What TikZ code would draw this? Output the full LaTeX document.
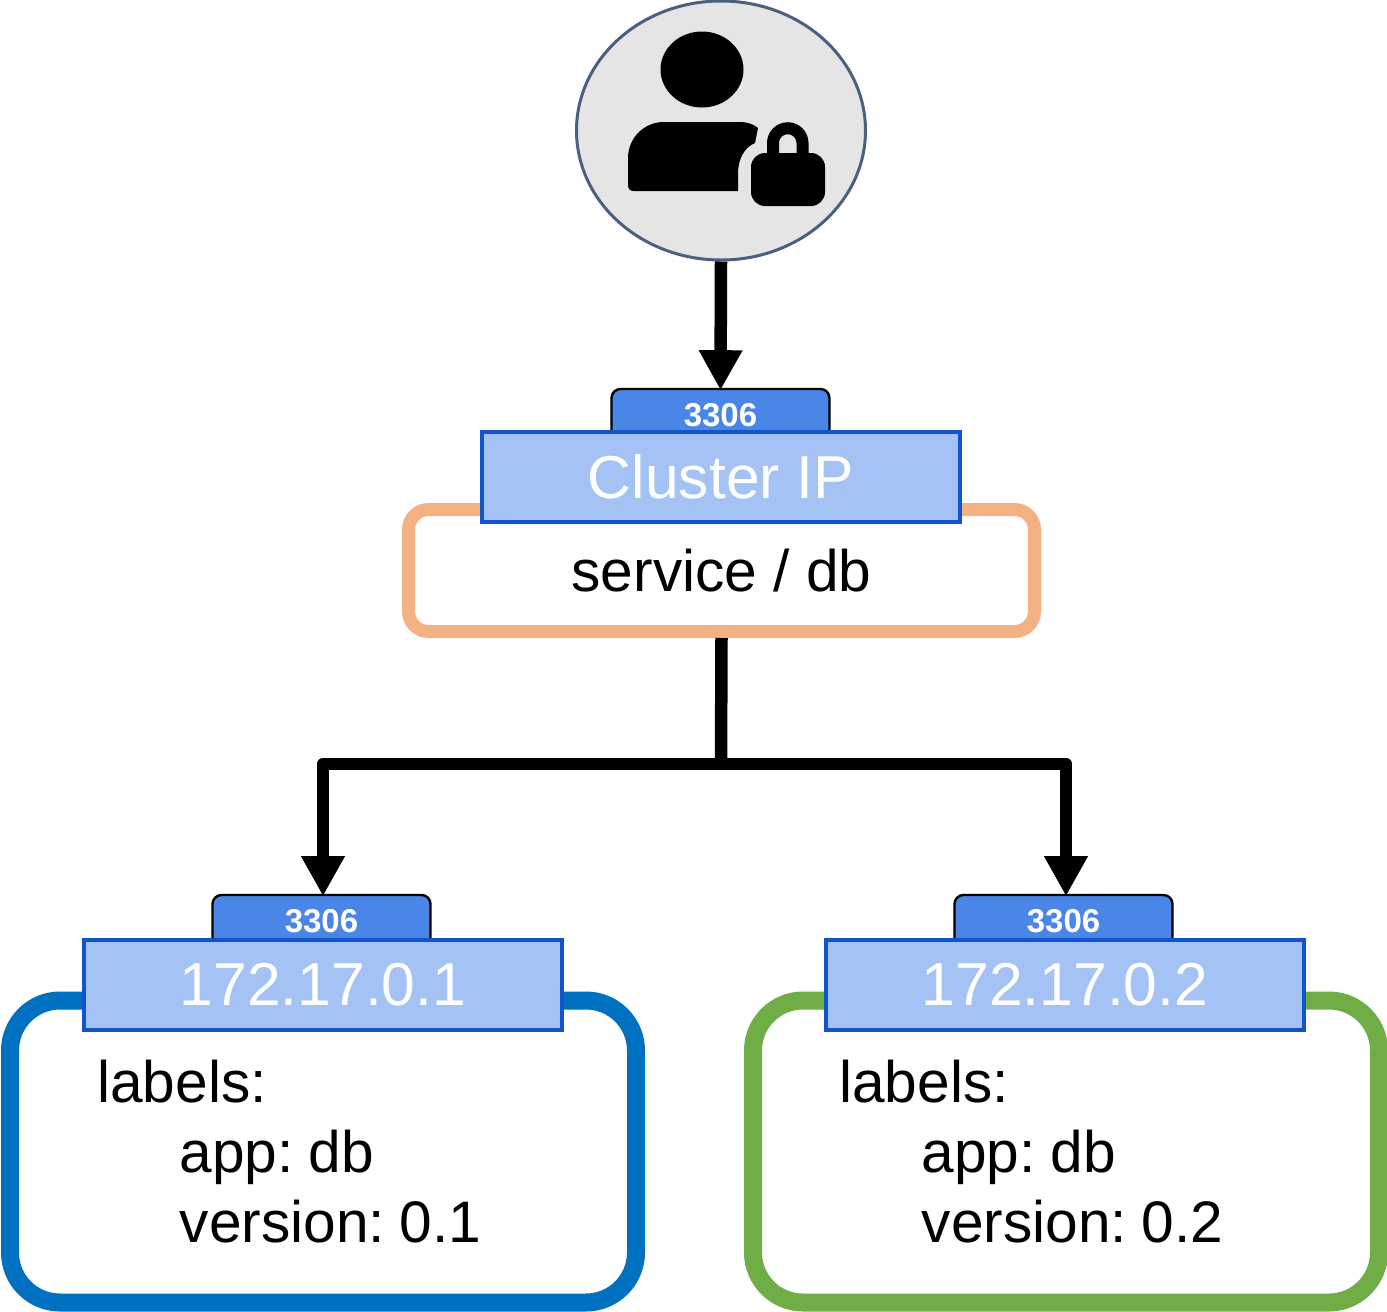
\documentclass[tikz,border=0pt]{standalone}
\usepackage{xcolor}
\usepackage{fontspec}
\setmainfont{Liberation Sans}
\usetikzlibrary{arrows.meta, shapes.geometric}

\definecolor{portblue}{HTML}{4A86E8}
\definecolor{ipblue}{HTML}{A4C2F4}
\definecolor{ipedge}{HTML}{1155CC}
\definecolor{svcorange}{HTML}{F4B183}
\definecolor{podblue}{HTML}{0070C0}
\definecolor{podgreen}{HTML}{70AD47}
\definecolor{useredge}{HTML}{4A6080}

\newcommand{\tightspace}{\spaceskip=7.3pt\relax}

\begin{document}
\frenchspacing
\begin{tikzpicture}[
  x=0.5pt, y=-0.5pt,
  user/.style={draw=useredge, fill=black!10, ellipse, line width=1.5pt, inner sep=0pt, minimum width=144.5pt, minimum height=129.5pt},
  port/.style={draw=black, fill=portblue, rounded corners=4.5pt, line width=1.2pt, inner sep=0pt, minimum width=109pt, minimum height=26pt, text=white, font=\fontsize{16.5}{20}\selectfont\bfseries},
  ipbox/.style={draw=ipedge, fill=ipblue, line width=1.8pt, inner sep=0pt, minimum width=239pt, minimum height=45pt, text=white, font=\fontsize{30.3}{36}\selectfont},
  svcbox/.style={draw=svcorange, fill=white, rounded corners=10pt, line width=6.5pt, inner sep=0pt, minimum width=313pt, minimum height=61pt, font=\fontsize{29.3}{35}\selectfont},
  pod/.style={draw=#1, fill=white, rounded corners=25pt, line width=9pt, inner sep=0pt, minimum width=313pt, minimum height=151pt},
  podtext/.style={anchor=north west, align=left, inner sep=0pt, font=\fontsize{29.3}{35}\selectfont},
  link/.style={line width=6.25pt, draw=black, line join=round},
  arrowlink/.style={link, -{Triangle[length=20pt, width=20.5pt]}, shorten >=-1.2pt}
]
\useasboundingbox (0,0) rectangle (1387,1312);

% user with lock
\node[user] (client) at (721,130.5) {};
\fill (702,69.5) ellipse [x radius=41.5, y radius=38];
\fill (634,191) -- (738,191) -- (738,174) .. controls (738,158) and (745,147) .. (755,143)
  -- (758,128) .. controls (753,124) and (747,122) .. (740,122) -- (664,122)
  .. controls (644,122) and (628,138) .. (628,158) -- (628,185)
  .. controls (628,189) and (630,191) .. (634,191) -- cycle;
\fill[rounded corners=7pt] (751,153) rectangle (825,206);
\draw[line width=6pt] (773,158) -- (773,143) arc[start angle=180, end angle=360, radius=14.75] -- (802.5,158);

% service
\node[svcbox] (service) at (721.5,570.5) {service / db};
\node[port] (portsvc) at (720.5,415) {3306};
\node[ipbox] (ipsvc) at (721,477) {Cluster IP};

% pods
\node[pod=podblue] (poda) at (323,1151.5) {};
\node[port] (porta) at (321.5,921) {3306};
\node[ipbox] (ipa) at (323,985) {172.17.0.1};
\node[podtext] (texta) at (97,1060) {labels:\\\hspace*{41.2pt}\tightspace app: db\\\hspace*{41.2pt}\tightspace version: 0.1};

\node[pod=podgreen] (podb) at (1066,1151.5) {};
\node[port] (portb) at (1063.5,921) {3306};
\node[ipbox] (ipb) at (1065,985) {172.17.0.2};
\node[podtext] (textb) at (839,1060) {labels:\\\hspace*{41.2pt}\tightspace app: db\\\hspace*{41.2pt}\tightspace version: 0.2};

% connectors
\coordinate (split) at (721,764);
\draw[arrowlink] (client.south) -- (portsvc.north);
\draw[link] (service.south) -- (split);
\draw[arrowlink] (split) -| ([xshift=0.75pt]porta.north);
\draw[arrowlink] (split) -| ([xshift=1.25pt]portb.north);
\end{tikzpicture}
\end{document}
